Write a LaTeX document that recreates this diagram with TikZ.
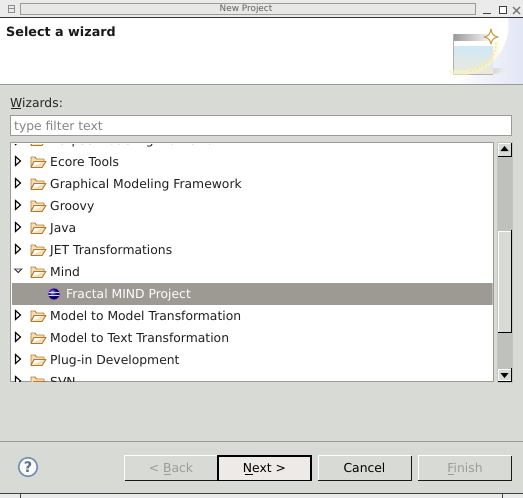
\documentclass[tikz,border=0pt]{standalone}
\usepackage{fontspec}
\setmainfont{DejaVu Sans}
\usetikzlibrary{shadings}
\definecolor{dlgbg}{HTML}{D8DAD6}
\definecolor{rulegrey}{HTML}{9C9C94}
\definecolor{selgrey}{HTML}{9C9A92}
\definecolor{troughgrey}{HTML}{BFC1BC}
\definecolor{titletxt}{HTML}{5E5E5E}
\definecolor{foldedge}{HTML}{B5762A}
\definecolor{foldfill}{HTML}{F5E0B5}
\definecolor{disabledtxt}{HTML}{9A9C98}
\definecolor{helpblue}{HTML}{6F8DB0}
\definecolor{gold}{HTML}{C9A040}
\definecolor{nextfill}{HTML}{EEEAE8}
\definecolor{glow}{HTML}{FBF6C8}
\definecolor{bannerblue}{HTML}{E2E6F5}
\definecolor{iconsky}{HTML}{CFE8F8}
\definecolor{iconcream}{HTML}{EDE9D8}
\tikzset{
  treelabel/.style={anchor=base west,inner sep=0pt,font=\fontsize{12.35}{14}\selectfont,text=black!88},
  btn/.style={anchor=base,inner sep=0pt,font=\fontsize{12.35}{14}\selectfont},
  winbtn/.style={draw=black!75,line width=.8pt},
  pics/folder/.style={code={
    \draw[foldedge,fill=foldfill,line width=.9pt,line join=round] (-7,5.5) -- (-7,-5) -- (-3,-5) -- (-1.5,-3) -- (6,-3) -- (6,-0.5) -- (-4,-0.5) -- (-7,5.5) -- (4,5.5) -- (8,-0.5) -- (6,-0.5);
  }},
  pics/closedarrow/.style={code={
    \draw[black,line width=1.1pt,fill=white,line join=miter] (-2.5,-4.5) -- (2.5,0) -- (-2.5,4.5) -- cycle;
  }},
}
\begin{document}
\begin{tikzpicture}[x=1pt,y=-1pt]
\useasboundingbox (0,0) rectangle (523,498);
\fill[dlgbg] (0,0) rectangle (523,498);
% title bar
\fill[black!8] (0,0) rectangle (523,17);
\draw[rulegrey,line width=.8pt,fill=dlgbg!60!white] (20,3) rectangle (475,14.5);
\draw[black!45,line width=.7pt] (8,5) rectangle (14,12);
\draw[black!45,line width=.7pt] (8,8) -- (14,8);
\node[anchor=base,inner sep=0pt,text=titletxt,font=\fontsize{8.9}{10}\selectfont] (title) at (246,11) {New Project};
\draw[winbtn] (483,13) -- (491,13);
\draw[winbtn,fill=white] (499,6) rectangle (506,13);
\draw[winbtn,black!55,line width=1.2pt] (513,7) -- (520,14) (520,7) -- (513,14);
\fill[black!80] (0,17) rectangle (523,18);
% banner
\fill[white] (0,18) rectangle (523,84);
\shade[left color=white,right color=bannerblue,shading angle=90] (508,18) .. controls (512,40) and (500,70) .. (450,84) -- (523,84) -- (523,18) -- cycle;
\draw[rulegrey,line width=1pt] (0,84.5) -- (523,84.5);
\node[anchor=base west,inner sep=0pt,font=\bfseries\fontsize{12.75}{14}\selectfont,text=black!90] (head) at (6,36) {Select a wizard};
% wizard icon
\shade[left color=black!40,right color=black!5] (454,74) -- (497,74) -- (508,68) -- (493,68) -- (493,71) -- (454,71) -- cycle;
\shade[left color=gray!80,right color=white] (453,34) rectangle (493,41);
\fill[white] (453,41) rectangle (493,46);
\shade[top color=iconsky,bottom color=iconcream] (454,46) rectangle (493,73);
\draw[gray!60,line width=.8pt] (453,34) -- (453,74) -- (493,74);
\draw[glow,line width=5pt,line cap=round,opacity=.55] (451,72) .. controls (473,76) and (498,65) .. (497,43);
\draw[glow!80!orange,line width=1.6pt,dotted,opacity=.9] (470,71) .. controls (482,68) and (497,58) .. (496,43);
\draw[gold,fill=white,line width=1.1pt,line join=round] (491,29) .. controls (492,34) and (493,36) .. (498,37) .. controls (493,38) and (492,40) .. (491,44) .. controls (490,40) and (489,38) .. (484,37) .. controls (489,36) and (490,34) .. (491,29) -- cycle;
% wizards label and filter
\node[anchor=base west,inner sep=0pt,font=\fontsize{12.35}{14}\selectfont,text=black!85] (wiz) at (10,107) {Wizards:};
\draw[black!85,line width=.7pt] (10.5,108.5) -- (20.5,108.5);
\draw[rulegrey,line width=1pt,fill=white] (10.5,115.5) rectangle (511.5,135.5);
\node[anchor=base west,inner sep=0pt,font=\fontsize{12.35}{14}\selectfont,text=black!48] (filter) at (14,130) {type filter text};
% tree box
\draw[rulegrey,line width=1pt,fill=white] (10.5,142.5) rectangle (493,381.5);
\begin{scope}
\clip (11,144) rectangle (492.5,381);
\node[treelabel] (t0) at (50,144) {Eclipse Modeling Framework};
\pic at (38,140) {folder};
\pic at (18,140) {closedarrow};
\foreach \yy/\nm/\lab in {161/t1/Ecore Tools,183/t2/Graphical Modeling Framework,205/t3/Groovy,227/t4/Java,249/t5/JET Transformations,315/t6/Model to Model Transformation,337/t7/Model to Text Transformation,359/t8/Plug-in Development,381/t9/SVN}{
  \node[treelabel] (\nm) at (50,\yy+5) {\lab};
  \pic at (38,\yy+1) {folder};
  \pic at (18,\yy) {closedarrow};
}
\node[treelabel] (mind) at (50,276) {Mind};
\pic at (38,272) {folder};
\fill[black!85] (13.5,268.5) -- (23,268.5) -- (18.25,273) -- cycle;
\fill[white] (16,269.4) -- (20.6,269.4) -- (18.25,271.6) -- cycle;
\fill[selgrey] (12,283) rectangle (492.5,305);
\node[treelabel,text=white] (sel) at (66,298) {Fractal MIND Project};
\shade[ball color=blue!60!black] (54,294) circle (6);
\draw[white!85!blue,line width=.6pt] (48,292.5) -- (60,292.5) (48,295.5) -- (60,295.5);
\draw[violet!55,line width=.8pt] (54,294) circle (6);
\end{scope}
% scrollbar
\fill[troughgrey] (497,142) rectangle (512.5,381.5);
\draw[rulegrey!60,line width=.8pt] (497,142) rectangle (512.5,382);
\draw[white,line width=.8pt,fill=dlgbg] (498,143) rectangle (511,156);
\draw[black,line width=1pt] (498,156.5) -- (511.5,156.5) -- (511.5,143);
\fill[black] (500.5,151) -- (508.5,151) -- (504.5,146) -- cycle;
\draw[white,line width=.8pt,fill=dlgbg] (498.5,231) rectangle (511,332);
\draw[black,line width=1pt] (498,332.5) -- (511.5,332.5) -- (511.5,230);
\draw[white,line width=.8pt,fill=dlgbg] (498,369) rectangle (511,380);
\draw[black,line width=1pt] (498,381) -- (511.5,381) -- (511.5,368);
\fill[black] (500.5,373) -- (508.5,373) -- (504.5,378) -- cycle;
% bottom
\draw[rulegrey,line width=1pt] (0,441.5) -- (523,441.5);
\draw[helpblue,line width=1.5pt,fill=white!85!dlgbg] (28,467) circle (9.3);
\node[inner sep=0pt,text=helpblue!80!black,font=\bfseries\fontsize{14.5}{15}\selectfont] (help) at (28,467) {?};
% buttons
\foreach \xa/\xb in {124.5/217,318/411,418/511}{
  \draw[white,line width=1pt] (\xa,480) -- (\xa,455.5) -- (\xb,455.5);
  \draw[black!90,line width=1pt] (\xa,480.5) -- (\xb,480.5) -- (\xb,455.5);
}
\draw[black,line width=1.3pt,fill=nextfill] (218,456) rectangle (311,480.5);
\node[btn,text=disabledtxt] (back) at (171,472) {< Back};
\draw[disabledtxt,line width=.7pt] (163.5,474.5) -- (171,474.5);
\node[btn,text=black] (next) at (264.5,472) {Next >};
\draw[black,line width=.7pt] (244.5,474.5) -- (252.5,474.5);
\node[btn,text=black] (cancel) at (364.5,472) {Cancel};
\node[btn,text=disabledtxt] (finish) at (465,472) {Finish};
\draw[disabledtxt,line width=.7pt] (447.5,474.5) -- (454,474.5);
% bottom frame
\draw[black!75,line width=1pt] (0,493.5) -- (523,493.5);
\fill[black!8] (0,494) rectangle (523,498);
\draw[black!75,line width=.8pt] (20.5,494) -- (20.5,498) (502.5,494) -- (502.5,498);
\end{tikzpicture}
\end{document}
